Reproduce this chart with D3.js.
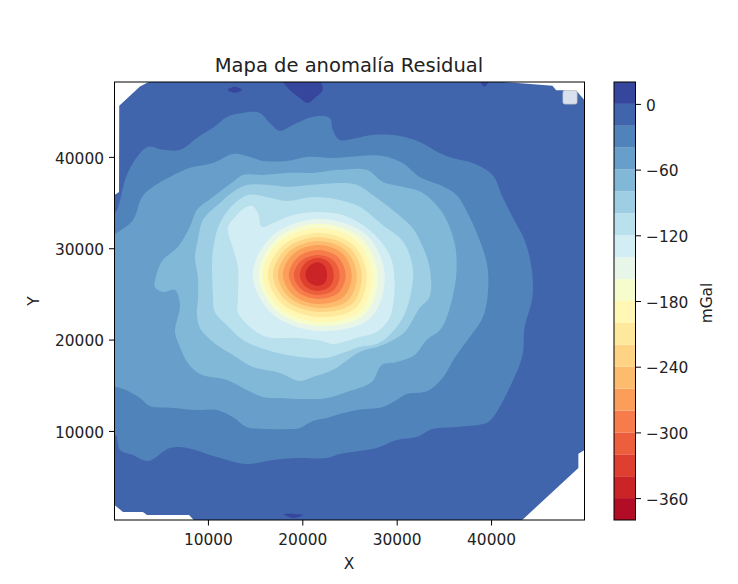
<!DOCTYPE html>
<html>
<head>
<meta charset="utf-8">
<script src="https://cdn.jsdelivr.net/npm/d3@7"></script>
<style>
body { margin: 0; background: #fff; }
text { font-family: "DejaVu Sans", sans-serif; fill: #222; }
</style>
</head>
<body>
<div id="chart-area"></div>
<script>
/*
*    residual anomaly map, contour outlines (X, Y in map units, mGal levels)
*/

var xTicks = [10000, 20000, 30000, 40000];
var yTicks = [10000, 20000, 30000, 40000];
var barTicks = [0, -60, -120, -180, -240, -300, -360];
var bandEdges = d3.range(-380, 21, 20);

// outline of the surveyed area
var surveyArea = [[600,45600],[2800,47700],[3900,48300],[40050,48300],[46500,47800],[46900,47300],[49000,47300],[49900,46200],
    [49900,7900],[49250,7500],[49250,5950],[43300,250],[8500,250],[8000,800],[3550,800],[3100,1130],[1000,1130],[100,1900],
    [100,35840],[580,36170]];

var ringM20 = [[370,34200],[1220,37480],[2060,39340],[3650,41100],[5240,40770],[7040,40770],[8830,42080],[10530,43180],[12010,44380],
    [13700,44820],[15500,44820],[16560,43720],[17620,42850],[18990,43500],[21110,44380],[22910,44270],[23220,42960],[23960,41860],
    [25760,42080],[27460,42410],[30310,42300],[32430,41640],[34540,40440],[35920,39890],[38030,39340],[40150,38030],[41210,35620],
    [42270,33430],[43540,30910],[44280,27960],[44380,24670],[43540,21280],[43330,18320],[41950,14710],[40150,11420],[39510,10870],
    [36340,10440],[33800,10220],[32110,9340],[29990,9010],[27880,8140],[23960,7480],[22590,7040],[19410,7040],[16880,6820],
    [14120,6380],[10950,7150],[7780,8140],[5980,8140],[3650,6710],[2060,7370],[690,7920],[260,9560],[-500,8000],[-500,33000]];
var ringM40 = [[370,31680],[2060,33100],[3020,35620],[4180,36720],[5980,37810],[8090,38800],[10530,39340],[12640,40330],[14120,40110],
    [15820,39560],[18360,39560],[20470,40000],[23220,39890],[26080,40110],[28510,40110],[30630,39340],[32430,37810],[34540,36940],
    [36340,35840],[37510,33870],[38780,30910],[39620,27960],[39620,24670],[39090,22370],[37510,19960],[36130,17990],[34860,15800],
    [33270,14380],[31050,14050],[29990,13390],[28510,12630],[25760,12300],[23960,11860],[22590,11420],[21110,11090],[19730,10330],
    [18360,10220],[16240,10220],[14120,10440],[12640,11530],[10950,12300],[8830,12300],[6300,12520],[3860,12730],[2800,13610],
    [1530,14380],[370,14820],[-500,15000],[-500,31000]];
var ringM60 = [[13700,38030],[15820,38030],[18360,38250],[21110,38250],[23960,38580],[26820,38580],[28510,37260],[30630,36720],
    [32750,36060],[34860,33870],[36130,30580],[36340,27630],[35920,24670],[34760,21280],[33170,19960],[31900,18320],[29990,17550],
    [28410,17220],[27350,15360],[24700,14270],[22590,13610],[20470,13500],[17620,13610],[15820,13720],[14120,14490],[12010,15580],
    [9150,16240],[7880,17440],[7040,19200],[6510,20840],[7040,23790],[6510,25440],[5240,25220],[4390,25770],[4600,27300],[5240,28720],
    [6820,30150],[8090,32340],[8830,34200],[10530,35620],[12640,37260]];
var ringM80 = [[14230,36940],[16240,36940],[18360,36720],[21110,36940],[23960,37150],[25760,36940],[27460,35840],[29570,34200],
    [31580,32340],[32430,30910],[33480,27960],[33480,24670],[32430,23470],[30840,20840],[28510,19410],[26080,18650],[23220,16680],
    [21110,15910],[19730,15470],[17620,16350],[14760,17010],[12640,18320],[10950,19410],[9150,21280],[8830,23030],[8940,24340],
    [8940,26860],[8620,29050],[8940,30910],[9470,33100],[11270,34960],[12640,36170]];
var ringM100 = [[14230,35840],[16240,35620],[18360,35180],[21110,35620],[23960,35290],[26080,34530],[28510,32550],[30630,30800],
    [31690,27960],[31480,24890],[30630,22370],[29250,20510],[27880,19520],[26080,19200],[23960,18430],[22590,17990],[19730,18100],
    [16240,18870],[13700,19960],[12320,21280],[10740,23030],[10530,24890],[10530,29820],[11270,32770],[12640,34740]];
var ringM120 = [[13170,24340],[13170,27960],[12540,30360],[12110,32230],[12960,33540],[13910,34420],[14650,34640],[15290,33870],
    [15710,32340],[16880,32770],[18990,33650],[21640,33980],[24280,33650],[26400,32550],[28200,30910],[29460,28720],[29780,25980],
    [29680,24340],[29250,22370],[27880,20840],[26080,20290],[23960,19630],[23220,19500],[21850,19900],[19410,20180],[16240,20290],
    [14440,21390],[13170,23030]];
var ringM140 = [[21640,33210],[26740,31500],[28730,27080],[27170,22300],[21640,20950],[16830,22790],[14760,27080],[16830,31370]];
var ringM160 = [[21640,32670],[26210,31100],[27990,27080],[26590,22720],[21640,21500],[17270,23170],[15400,27080],[17270,30990]];
var ringM180 = [[21640,32230],[25750,30790],[27350,27080],[26100,23070],[21640,21930],[17570,23480],[15820,27080],[17570,30680]];
var ringM200 = [[21640,31680],[25370,30390],[26820,27080],[25680,23490],[21640,22480],[17940,23860],[16350,27080],[17940,30300]];
var ringM220 = [[21640,31240],[24990,30080],[26300,27080],[25270,23920],[21640,23030],[18310,24240],[16880,27080],[18310,29990]];
var ringM240 = [[21640,30800],[24610,29760],[25770,27080],[24820,24260],[21640,23470],[18680,24550],[17410,27080],[18680,29690]];
var ringM260 = [[21640,30360],[24230,29450],[25240,27080],[24370,24680],[21640,23900],[19050,24860],[17940,27080],[19050,29380]];
var ringM280 = [[21640,29820],[23770,29050],[24600,27080],[23830,25130],[21640,24450],[19490,25240],[18570,27080],[19490,29000]];
var ringM300 = [[21640,29270],[23320,28660],[23970,27080],[23360,25460],[21640,24890],[19860,25550],[19100,27080],[19860,28610]];
var ringM320 = [[21640,28940],[22860,28420],[23330,27080],[22890,25780],[21640,25330],[20310,25850],[19740,27080],[20310,28380]];
var ringM340 = [[21640,28470],[22350,28080],[22620,27080],[22370,26190],[21640,25880],[20730,26240],[20340,27080],[20730,28050]];
var ringM360 = [[21640,27130],[21690,27080],[21640,27030],[21590,27080]];

// small patches above 0 mGal along the top and bottom edges
var patchesAbove0 = [
    [[12110,47340],[12850,47670],[13600,47340],[12850,47010]],
    [[17830,48600],[18670,47330],[19730,46460],[20580,45910],[21320,46460],[22160,47330],[21640,48600]],
    [[38780,48600],[39300,47660],[39830,48600]],
    [[18040,900],[18990,470],[20050,800]]
];

var rings = [ringM20, ringM40, ringM60, ringM80, ringM100, ringM120, ringM140, ringM160, ringM180, ringM200,
    ringM220, ringM240, ringM260, ringM280, ringM300, ringM320, ringM340, ringM360];
var ringLevels = d3.range(-20, -361, -20);

var margin = {top: 82, left: 114.5};
var width = 470;
var height = 438;

var x = d3.scaleLinear().domain([100, 49900]).range([0, width]);
var y = d3.scaleLinear().domain([250, 48200]).range([height, 0]);
var barY = d3.scaleLinear().domain([-380, 20]).range([height, 0]);

// matplotlib RdYlBu, sampled at the middle of each 20 mGal band
var rdYlBu = d3.piecewise(d3.interpolateRgb, d3.schemeRdYlBu[11]);
var norm = d3.scaleLinear().domain([-380, 20]).range([0, 1]);
function bandColor(top) {
    return rdYlBu(norm(top - 10));
}

var svg = d3.select("#chart-area")
.append("svg")
.attr("width", 738)
.attr("height", 584);

var g = svg.append("g")
.attr("transform", "translate(" + margin.left + ", " + margin.top + ")");

var defs = svg.append("defs");
defs.append("clipPath").attr("id", "plot-clip")
.append("rect").attr("width", width).attr("height", height);
defs.append("clipPath").attr("id", "survey-clip")
.append("path")
.attr("d", d3.line().x((d) => x(d[0])).y((d) => y(d[1])).curve(d3.curveLinearClosed)(surveyArea));

var outline = d3.line()
.x((d) => x(d[0]))
.y((d) => y(d[1]))
.curve(d3.curveCatmullRomClosed.alpha(0.5));

var map = g.append("g").attr("clip-path", "url(#plot-clip)")
.append("g").attr("clip-path", "url(#survey-clip)");

map.append("rect")
.attr("width", width)
.attr("height", height)
.attr("fill", bandColor(0));

map.selectAll("path.ring")
.data(rings)
.enter()
.append("path")
.attr("class", "ring")
.attr("d", outline)
.attr("fill", (d, i) => bandColor(ringLevels[i]));

map.selectAll("path.patch")
.data(patchesAbove0)
.enter()
.append("path")
.attr("class", "patch")
.attr("d", outline)
.attr("fill", bandColor(20));

// empty legend box left by the original plot
g.append("rect")
.attr("x", 448.5)
.attr("y", 8.5)
.attr("width", 14)
.attr("height", 13.5)
.attr("rx", 2)
.attr("fill", "#fff")
.attr("fill-opacity", 0.8)
.attr("stroke", "#ccc")
.attr("stroke-opacity", 0.8);

g.append("rect")
.attr("width", width)
.attr("height", height)
.attr("fill", "none")
.attr("stroke", "#000");

var xAxisGroup = g.append("g")
.attr("transform", "translate(0, " + height + ")")
.call(d3.axisBottom(x).tickValues(xTicks).tickFormat(d3.format("d")).tickSizeOuter(0).tickSize(5.5).tickPadding(8.5));

var yAxisGroup = g.append("g")
.call(d3.axisLeft(y).tickValues(yTicks).tickFormat(d3.format("d")).tickSizeOuter(0).tickSize(5.5).tickPadding(5));

// colorbar
var bar = svg.append("g").attr("transform", "translate(614, " + margin.top + ")");
var barWidth = 21.5;

bar.selectAll("rect.band")
.data(bandEdges.slice(1))
.enter()
.append("rect")
.attr("class", "band")
.attr("y", (d) => barY(d))
.attr("width", barWidth)
.attr("height", (d) => barY(d - 20) - barY(d))
.attr("fill", (d) => bandColor(d));

bar.append("rect")
.attr("width", barWidth)
.attr("height", height)
.attr("fill", "none")
.attr("stroke", "#000");

bar.append("g")
.attr("transform", "translate(" + barWidth + ", 0)")
.call(d3.axisRight(barY).tickValues(barTicks).tickSizeOuter(0).tickSize(5.5).tickPadding(5));

[xAxisGroup, yAxisGroup, bar].forEach((a) => {
    a.selectAll(".domain").remove();
    a.selectAll("text").attr("font-size", "15.4px").style("font-family", "'DejaVu Sans'").attr("fill", "#222");
    a.selectAll("line").attr("stroke", "#000");
});
yAxisGroup.selectAll("text").attr("dy", "0.4em");
bar.selectAll("text").attr("dy", "0.4em");

svg.append("text")
.attr("x", 349)
.attr("y", 72)
.attr("font-size", "19.5px")
.attr("text-anchor", "middle")
.text("Mapa de anomalía Residual");

svg.append("text")
.attr("x", 349)
.attr("y", 569)
.attr("font-size", "15.4px")
.attr("text-anchor", "middle")
.text("X");

svg.append("text")
.attr("transform", "translate(39, 301) rotate(-90)")
.attr("font-size", "15.4px")
.attr("text-anchor", "middle")
.text("Y");

svg.append("text")
.attr("transform", "translate(712, 303) rotate(-90)")
.attr("font-size", "15.4px")
.attr("text-anchor", "middle")
.text("mGal");
</script>
</body>
</html>
